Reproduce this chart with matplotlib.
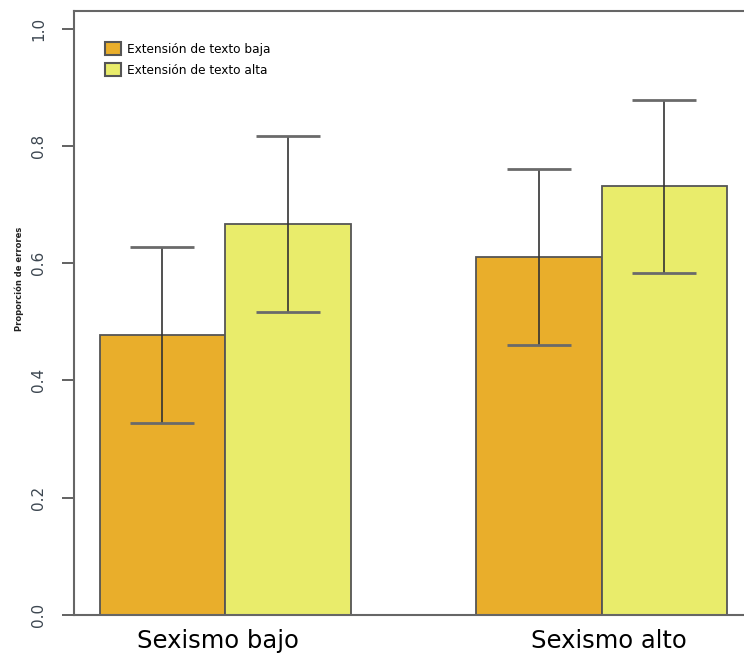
import matplotlib
matplotlib.use("Agg")
import matplotlib.pyplot as plt
from matplotlib.patches import Patch

# Data
groups = ["Sexismo bajo", "Sexismo alto"]
series = ["Extensión de texto baja", "Extensión de texto alta"]
values_baja = [0.478, 0.610]
values_alta = [0.666, 0.731]
err_baja = [0.150, 0.150]
err_alta = [0.150, 0.148]
yticks = [0.0, 0.2, 0.4, 0.6, 0.8, 1.0]
ytick_labels = ["0.0", "0.2", "0.4", "0.6", "0.8", "1.0"]
ylabel = "Proporción de errores"

col_baja = "#E9AE2B"
col_alta = "#E9EC6B"
edge = "#555555"

fig = plt.figure(figsize=(7.44, 6.55), dpi=100)
ax = fig.add_axes([0.1, 0.0611, 0.9, 0.9221])

group_centers = [2.0, 5.0]
label_pos = [1.94, 5.06]
x_baja = [c - 0.5 for c in group_centers]
x_alta = [c + 0.5 for c in group_centers]

ax.bar(x_baja, values_baja, width=1.0, color=col_baja, edgecolor=edge, linewidth=1.3)
ax.bar(x_alta, values_alta, width=1.0, color=col_alta, edgecolor=edge, linewidth=1.3)

for xs, vs, es in ((x_baja, values_baja, err_baja), (x_alta, values_alta, err_alta)):
    cont = ax.errorbar(xs, vs, yerr=es, fmt="none", ecolor="#333333", elinewidth=1.2,
                       capsize=23, capthick=2.0)
    for cap in cont[1]:
        cap.set_color("#6a6a6a")
        cap.set_markeredgecolor("#6a6a6a")
        cap.set_markerfacecolor("#6a6a6a")

ax.set_xlim(0.8, 6.135)
ax.set_ylim(0.0, 1.03)

ax.set_yticks(yticks)
ax.set_yticklabels(ytick_labels)
ax.tick_params(axis="y", length=8.5, width=1.3, color="#555555", pad=12,
               labelsize=11, labelcolor="#3c4650", labelrotation=90)
for lab in ax.get_yticklabels():
    lab.set_va("center")

ax.set_xticks(label_pos)
ax.set_xticklabels(groups)
ax.tick_params(axis="x", length=0, pad=10, labelsize=17.5, labelcolor="black")

for s in ("left", "top", "bottom"):
    ax.spines[s].set_color("#666666")
    ax.spines[s].set_linewidth(1.5)
ax.spines["right"].set_visible(False)

fig.text(0.026, 0.575, ylabel, rotation=90, ha="center", va="center",
         fontsize=6, fontweight="bold", color="#222222")

handles = [Patch(facecolor=col_baja, edgecolor=edge, linewidth=1.5),
           Patch(facecolor=col_alta, edgecolor=edge, linewidth=1.5)]
ax.legend(handles, series, loc="upper left", bbox_to_anchor=(0.0457, 0.949),
          frameon=False, fontsize=8.7, handlelength=1.35, handleheight=1.35,
          labelspacing=0.6, handletextpad=0.45, borderpad=0, borderaxespad=0)

fig.savefig("out.png", dpi=100)
